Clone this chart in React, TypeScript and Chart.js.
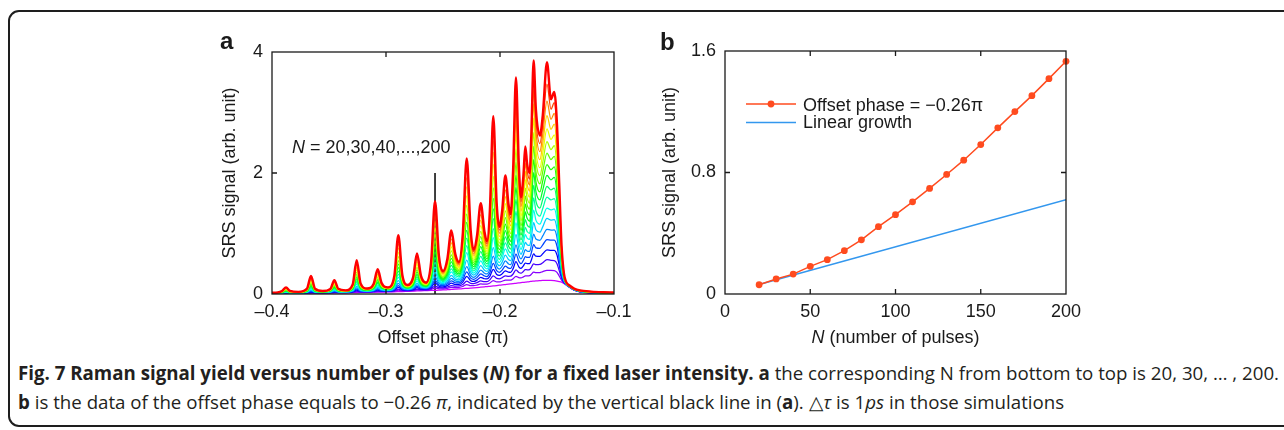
import React, { useEffect, useLayoutEffect, useRef } from 'react';
import { Chart, registerables } from 'chart.js';

Chart.register(...registerables);

// ---------------- data ----------------
// panel a: offset phase grid (units of pi) shared by every curve
const phaseGrid = [
  -0.4000, -0.3950, -0.3912, -0.3877, -0.3842, -0.3768, -0.3693, -0.3658, -0.3623, -0.3556,
  -0.3488, -0.3453, -0.3418, -0.3355, -0.3292, -0.3257, -0.3222, -0.3165, -0.3108, -0.3073,
  -0.3038, -0.2983, -0.2927, -0.2892, -0.2857, -0.2810, -0.2763, -0.2728, -0.2693, -0.2649,
  -0.2605, -0.2570, -0.2535, -0.2499, -0.2462, -0.2427, -0.2392, -0.2360, -0.2327, -0.2292,
  -0.2257, -0.2231, -0.2202, -0.2169, -0.2136, -0.2114, -0.2089, -0.2059, -0.2029, -0.2006,
  -0.1981, -0.1953, -0.1925, -0.1907, -0.1885, -0.1860, -0.1835, -0.1816, -0.1795, -0.1778,
  -0.1762, -0.1740, -0.1725, -0.1705, -0.1685, -0.1650, -0.1625, -0.1588, -0.1553, -0.1524,
  -0.1500, -0.1480, -0.1460, -0.1440, -0.1420, -0.1390, -0.1350, -0.1300, -0.1200, -0.1100,
  -0.1000,
];

const srsN20 = [
  0.005, 0.006, 0.007, 0.008, 0.008, 0.010, 0.011, 0.012, 0.013, 0.015,
  0.016, 0.017, 0.018, 0.020, 0.022, 0.023, 0.025, 0.027, 0.029, 0.030,
  0.032, 0.034, 0.037, 0.039, 0.041, 0.044, 0.047, 0.050, 0.052, 0.055,
  0.058, 0.061, 0.064, 0.067, 0.071, 0.075, 0.079, 0.083, 0.088, 0.093,
  0.098, 0.102, 0.107, 0.113, 0.119, 0.123, 0.128, 0.134, 0.140, 0.145,
  0.150, 0.156, 0.162, 0.166, 0.171, 0.177, 0.183, 0.187, 0.192, 0.196,
  0.200, 0.205, 0.209, 0.213, 0.217, 0.222, 0.225, 0.226, 0.224, 0.220,
  0.214, 0.206, 0.195, 0.175, 0.150, 0.110, 0.065, 0.035, 0.015, 0.009, 0.006,
];
const srsN30 = [
  0.006, 0.007, 0.009, 0.011, 0.010, 0.011, 0.014, 0.019, 0.016, 0.017,
  0.019, 0.023, 0.021, 0.022, 0.027, 0.036, 0.030, 0.031, 0.034, 0.040,
  0.038, 0.038, 0.045, 0.062, 0.050, 0.050, 0.056, 0.067, 0.062, 0.063,
  0.074, 0.099, 0.085, 0.084, 0.094, 0.108, 0.105, 0.108, 0.124, 0.157,
  0.138, 0.137, 0.148, 0.166, 0.163, 0.165, 0.182, 0.223, 0.200, 0.199,
  0.211, 0.230, 0.228, 0.230, 0.253, 0.293, 0.271, 0.266, 0.283, 0.300,
  0.301, 0.305, 0.326, 0.360, 0.352, 0.355, 0.371, 0.390, 0.390, 0.387,
  0.358, 0.295, 0.229, 0.185, 0.153, 0.112, 0.066, 0.036, 0.016, 0.010, 0.007,
];
const srsN40 = [
  0.007, 0.008, 0.010, 0.013, 0.011, 0.013, 0.016, 0.025, 0.018, 0.019,
  0.021, 0.028, 0.023, 0.024, 0.031, 0.047, 0.034, 0.034, 0.039, 0.049,
  0.043, 0.042, 0.053, 0.080, 0.059, 0.056, 0.064, 0.082, 0.071, 0.070,
  0.088, 0.131, 0.104, 0.102, 0.116, 0.139, 0.131, 0.133, 0.157, 0.212,
  0.176, 0.172, 0.188, 0.215, 0.206, 0.206, 0.234, 0.301, 0.258, 0.252,
  0.270, 0.301, 0.293, 0.294, 0.331, 0.398, 0.356, 0.344, 0.373, 0.402,
  0.400, 0.404, 0.440, 0.499, 0.484, 0.488, 0.517, 0.570, 0.557, 0.553,
  0.501, 0.383, 0.262, 0.194, 0.156, 0.113, 0.068, 0.038, 0.018, 0.011, 0.008,
];
const srsN50 = [
  0.008, 0.009, 0.012, 0.017, 0.013, 0.014, 0.019, 0.035, 0.021, 0.021,
  0.024, 0.035, 0.026, 0.027, 0.036, 0.065, 0.040, 0.038, 0.045, 0.063,
  0.049, 0.047, 0.063, 0.111, 0.070, 0.062, 0.073, 0.104, 0.082, 0.078,
  0.106, 0.182, 0.128, 0.119, 0.140, 0.178, 0.159, 0.158, 0.197, 0.292,
  0.220, 0.207, 0.230, 0.275, 0.252, 0.248, 0.292, 0.409, 0.322, 0.306,
  0.333, 0.383, 0.361, 0.358, 0.419, 0.535, 0.450, 0.423, 0.465, 0.512,
  0.503, 0.504, 0.562, 0.662, 0.625, 0.622, 0.664, 0.730, 0.723, 0.721,
  0.645, 0.472, 0.296, 0.204, 0.158, 0.115, 0.069, 0.039, 0.019, 0.012, 0.009,
];
const srsN60 = [
  0.008, 0.010, 0.014, 0.020, 0.015, 0.016, 0.022, 0.043, 0.024, 0.023,
  0.027, 0.042, 0.029, 0.029, 0.041, 0.080, 0.046, 0.041, 0.051, 0.075,
  0.055, 0.051, 0.072, 0.138, 0.080, 0.068, 0.083, 0.124, 0.092, 0.085,
  0.124, 0.226, 0.150, 0.137, 0.164, 0.215, 0.186, 0.182, 0.235, 0.364,
  0.262, 0.242, 0.272, 0.332, 0.297, 0.289, 0.349, 0.508, 0.385, 0.359,
  0.395, 0.461, 0.428, 0.422, 0.504, 0.661, 0.541, 0.501, 0.557, 0.619,
  0.605, 0.604, 0.681, 0.817, 0.763, 0.755, 0.811, 0.900, 0.890, 0.889,
  0.789, 0.560, 0.329, 0.214, 0.161, 0.117, 0.071, 0.041, 0.021, 0.014, 0.010,
];
const srsN70 = [
  0.009, 0.011, 0.016, 0.025, 0.017, 0.017, 0.026, 0.054, 0.028, 0.025,
  0.030, 0.050, 0.033, 0.031, 0.047, 0.101, 0.052, 0.045, 0.057, 0.090,
  0.062, 0.055, 0.084, 0.174, 0.092, 0.073, 0.093, 0.149, 0.103, 0.093,
  0.144, 0.285, 0.176, 0.154, 0.189, 0.258, 0.216, 0.207, 0.277, 0.453,
  0.308, 0.276, 0.316, 0.396, 0.344, 0.331, 0.410, 0.627, 0.452, 0.413,
  0.459, 0.547, 0.497, 0.487, 0.596, 0.811, 0.638, 0.580, 0.651, 0.733,
  0.709, 0.704, 0.806, 0.990, 0.909, 0.888, 0.960, 1.070, 1.056, 1.059,
  0.932, 0.649, 0.363, 0.224, 0.164, 0.118, 0.072, 0.042, 0.022, 0.015, 0.011,
];
const srsN80 = [
  0.010, 0.012, 0.018, 0.030, 0.019, 0.018, 0.030, 0.068, 0.032, 0.027,
  0.034, 0.061, 0.036, 0.033, 0.054, 0.127, 0.059, 0.048, 0.065, 0.109,
  0.070, 0.059, 0.097, 0.220, 0.106, 0.079, 0.104, 0.180, 0.116, 0.100,
  0.167, 0.357, 0.205, 0.171, 0.216, 0.307, 0.246, 0.232, 0.324, 0.560,
  0.358, 0.311, 0.362, 0.467, 0.393, 0.372, 0.476, 0.768, 0.524, 0.467,
  0.526, 0.642, 0.569, 0.551, 0.696, 0.984, 0.743, 0.658, 0.747, 0.853,
  0.816, 0.803, 0.938, 1.180, 1.061, 1.021, 1.110, 1.250, 1.223, 1.231,
  1.076, 0.737, 0.397, 0.233, 0.167, 0.120, 0.073, 0.043, 0.023, 0.016, 0.012,
];
const srsN90 = [
  0.011, 0.013, 0.020, 0.036, 0.022, 0.020, 0.034, 0.085, 0.036, 0.029,
  0.038, 0.073, 0.040, 0.036, 0.062, 0.159, 0.068, 0.052, 0.073, 0.131,
  0.078, 0.064, 0.112, 0.274, 0.122, 0.085, 0.117, 0.216, 0.130, 0.108,
  0.194, 0.443, 0.236, 0.189, 0.245, 0.364, 0.279, 0.257, 0.375, 0.685,
  0.412, 0.346, 0.410, 0.547, 0.445, 0.414, 0.547, 0.931, 0.601, 0.520,
  0.595, 0.744, 0.643, 0.615, 0.802, 1.181, 0.854, 0.737, 0.846, 0.980,
  0.925, 0.903, 1.075, 1.388, 1.221, 1.155, 1.262, 1.420, 1.389, 1.405,
  1.220, 0.826, 0.430, 0.243, 0.169, 0.122, 0.075, 0.045, 0.025, 0.017, 0.013,
];
const srsN100 = [
  0.012, 0.014, 0.023, 0.041, 0.024, 0.021, 0.038, 0.100, 0.040, 0.031,
  0.042, 0.085, 0.044, 0.038, 0.070, 0.187, 0.076, 0.055, 0.080, 0.151,
  0.086, 0.068, 0.126, 0.324, 0.137, 0.091, 0.129, 0.249, 0.144, 0.115,
  0.219, 0.522, 0.267, 0.206, 0.273, 0.416, 0.311, 0.282, 0.423, 0.800,
  0.464, 0.381, 0.457, 0.622, 0.495, 0.455, 0.615, 1.082, 0.675, 0.574,
  0.663, 0.843, 0.716, 0.679, 0.905, 1.364, 0.962, 0.815, 0.943, 1.103,
  1.033, 1.003, 1.210, 1.587, 1.376, 1.288, 1.413, 1.600, 1.556, 1.578,
  1.363, 0.914, 0.464, 0.253, 0.172, 0.123, 0.076, 0.046, 0.026, 0.018, 0.014,
];
const srsN110 = [
  0.013, 0.016, 0.025, 0.047, 0.026, 0.023, 0.043, 0.117, 0.045, 0.033,
  0.046, 0.097, 0.047, 0.040, 0.078, 0.219, 0.084, 0.059, 0.089, 0.174,
  0.095, 0.072, 0.142, 0.379, 0.154, 0.097, 0.142, 0.285, 0.158, 0.123,
  0.246, 0.607, 0.299, 0.224, 0.302, 0.473, 0.344, 0.307, 0.474, 0.925,
  0.519, 0.416, 0.505, 0.702, 0.546, 0.497, 0.687, 1.245, 0.753, 0.628,
  0.732, 0.946, 0.790, 0.743, 1.012, 1.561, 1.074, 0.894, 1.041, 1.230,
  1.142, 1.103, 1.347, 1.795, 1.536, 1.421, 1.565, 1.780, 1.722, 1.752,
  1.507, 1.003, 0.498, 0.263, 0.175, 0.125, 0.078, 0.048, 0.028, 0.020, 0.016,
];
const srsN120 = [
  0.013, 0.017, 0.028, 0.053, 0.029, 0.024, 0.048, 0.134, 0.049, 0.034,
  0.050, 0.110, 0.051, 0.042, 0.086, 0.251, 0.092, 0.062, 0.097, 0.196,
  0.103, 0.076, 0.157, 0.434, 0.170, 0.103, 0.155, 0.322, 0.172, 0.130,
  0.272, 0.695, 0.331, 0.241, 0.330, 0.529, 0.377, 0.331, 0.525, 1.051,
  0.573, 0.451, 0.553, 0.782, 0.597, 0.538, 0.758, 1.409, 0.830, 0.681,
  0.801, 1.049, 0.864, 0.807, 1.119, 1.759, 1.186, 0.972, 1.140, 1.357,
  1.251, 1.202, 1.485, 2.005, 1.696, 1.554, 1.717, 1.960, 1.888, 1.926,
  1.651, 1.092, 0.531, 0.272, 0.178, 0.127, 0.079, 0.049, 0.029, 0.021, 0.017,
];
const srsN130 = [
  0.014, 0.018, 0.030, 0.059, 0.031, 0.025, 0.052, 0.153, 0.054, 0.036,
  0.054, 0.123, 0.055, 0.044, 0.094, 0.285, 0.101, 0.066, 0.105, 0.220,
  0.112, 0.080, 0.173, 0.493, 0.187, 0.109, 0.168, 0.360, 0.187, 0.138,
  0.301, 0.787, 0.364, 0.258, 0.360, 0.589, 0.411, 0.356, 0.578, 1.184,
  0.629, 0.486, 0.602, 0.865, 0.650, 0.580, 0.831, 1.581, 0.909, 0.735,
  0.872, 1.156, 0.939, 0.871, 1.229, 1.966, 1.300, 1.051, 1.239, 1.486,
  1.362, 1.302, 1.625, 2.221, 1.859, 1.687, 1.870, 2.140, 2.055, 2.101,
  1.794, 1.180, 0.565, 0.282, 0.181, 0.128, 0.080, 0.050, 0.030, 0.022, 0.018,
];
const srsN140 = [
  0.015, 0.019, 0.033, 0.066, 0.034, 0.027, 0.057, 0.171, 0.059, 0.038,
  0.058, 0.137, 0.059, 0.047, 0.103, 0.319, 0.110, 0.069, 0.114, 0.244,
  0.121, 0.085, 0.189, 0.552, 0.204, 0.115, 0.182, 0.400, 0.202, 0.145,
  0.329, 0.881, 0.398, 0.276, 0.390, 0.648, 0.445, 0.381, 0.632, 1.319,
  0.685, 0.521, 0.651, 0.948, 0.702, 0.621, 0.905, 1.756, 0.989, 0.788,
  0.942, 1.263, 1.014, 0.935, 1.339, 2.175, 1.415, 1.129, 1.339, 1.617,
  1.472, 1.402, 1.766, 2.439, 2.023, 1.821, 2.023, 2.330, 2.221, 2.276,
  1.938, 1.269, 0.598, 0.292, 0.183, 0.130, 0.082, 0.052, 0.032, 0.023, 0.019,
];
const srsN150 = [
  0.016, 0.020, 0.036, 0.073, 0.036, 0.028, 0.062, 0.191, 0.064, 0.040,
  0.062, 0.151, 0.063, 0.049, 0.112, 0.357, 0.120, 0.073, 0.123, 0.270,
  0.131, 0.089, 0.207, 0.618, 0.222, 0.121, 0.196, 0.442, 0.218, 0.153,
  0.359, 0.984, 0.433, 0.293, 0.421, 0.712, 0.480, 0.406, 0.688, 1.465,
  0.744, 0.556, 0.702, 1.037, 0.756, 0.663, 0.982, 1.944, 1.072, 0.842,
  1.014, 1.375, 1.091, 0.999, 1.455, 2.399, 1.535, 1.208, 1.439, 1.751,
  1.584, 1.501, 1.911, 2.668, 2.191, 1.954, 2.176, 2.520, 2.388, 2.452,
  2.082, 1.357, 0.632, 0.301, 0.186, 0.132, 0.083, 0.053, 0.033, 0.024, 0.020,
];
const srsN160 = [
  0.017, 0.021, 0.038, 0.080, 0.039, 0.029, 0.068, 0.213, 0.069, 0.042,
  0.067, 0.167, 0.068, 0.051, 0.121, 0.398, 0.130, 0.076, 0.132, 0.298,
  0.140, 0.093, 0.226, 0.689, 0.242, 0.126, 0.211, 0.488, 0.234, 0.160,
  0.392, 1.094, 0.471, 0.310, 0.453, 0.780, 0.516, 0.431, 0.746, 1.620,
  0.806, 0.590, 0.754, 1.130, 0.811, 0.704, 1.062, 2.143, 1.158, 0.896,
  1.087, 1.493, 1.168, 1.064, 1.574, 2.636, 1.658, 1.286, 1.542, 1.889,
  1.697, 1.601, 2.059, 2.907, 2.363, 2.087, 2.331, 2.730, 2.554, 2.630,
  2.225, 1.446, 0.666, 0.311, 0.189, 0.133, 0.084, 0.054, 0.034, 0.025, 0.021,
];
const srsN170 = [
  0.018, 0.022, 0.041, 0.088, 0.042, 0.031, 0.073, 0.234, 0.074, 0.044,
  0.071, 0.183, 0.072, 0.053, 0.131, 0.437, 0.140, 0.080, 0.142, 0.325,
  0.150, 0.097, 0.244, 0.757, 0.261, 0.132, 0.225, 0.533, 0.250, 0.168,
  0.423, 1.201, 0.508, 0.328, 0.484, 0.847, 0.552, 0.456, 0.804, 1.772,
  0.866, 0.625, 0.805, 1.221, 0.865, 0.746, 1.141, 2.339, 1.243, 0.949,
  1.160, 1.608, 1.246, 1.128, 1.692, 2.868, 1.780, 1.365, 1.643, 2.026,
  1.810, 1.701, 2.206, 3.142, 2.533, 2.220, 2.486, 2.950, 2.721, 2.807,
  2.369, 1.534, 0.699, 0.321, 0.192, 0.135, 0.086, 0.056, 0.036, 0.027, 0.022,
];
const srsN180 = [
  0.018, 0.023, 0.044, 0.095, 0.044, 0.032, 0.079, 0.255, 0.079, 0.046,
  0.076, 0.198, 0.076, 0.056, 0.140, 0.476, 0.149, 0.083, 0.151, 0.352,
  0.160, 0.102, 0.262, 0.825, 0.280, 0.138, 0.240, 0.576, 0.266, 0.175,
  0.454, 1.306, 0.544, 0.345, 0.515, 0.912, 0.587, 0.480, 0.861, 1.921,
  0.926, 0.660, 0.856, 1.311, 0.919, 0.787, 1.218, 2.531, 1.326, 1.003,
  1.232, 1.722, 1.323, 1.192, 1.808, 3.096, 1.901, 1.443, 1.745, 2.161,
  1.922, 1.801, 2.351, 3.375, 2.703, 2.354, 2.640, 3.190, 2.887, 2.984,
  2.513, 1.623, 0.733, 0.331, 0.194, 0.137, 0.087, 0.057, 0.037, 0.028, 0.023,
];
const srsN190 = [
  0.019, 0.024, 0.047, 0.102, 0.047, 0.034, 0.084, 0.277, 0.085, 0.048,
  0.080, 0.214, 0.081, 0.058, 0.150, 0.518, 0.160, 0.087, 0.160, 0.381,
  0.170, 0.106, 0.281, 0.897, 0.300, 0.144, 0.255, 0.623, 0.283, 0.183,
  0.487, 1.418, 0.582, 0.363, 0.548, 0.981, 0.623, 0.505, 0.920, 2.080,
  0.988, 0.695, 0.908, 1.405, 0.975, 0.829, 1.299, 2.735, 1.413, 1.056,
  1.306, 1.841, 1.401, 1.256, 1.929, 3.337, 2.025, 1.522, 1.847, 2.300,
  2.036, 1.900, 2.500, 3.616, 2.876, 2.487, 2.795, 3.470, 3.054, 3.162,
  2.656, 1.711, 0.766, 0.340, 0.197, 0.138, 0.089, 0.059, 0.039, 0.029, 0.024,
];
const srsN200 = [
  0.020, 0.025, 0.050, 0.110, 0.050, 0.035, 0.090, 0.300, 0.090, 0.050,
  0.085, 0.230, 0.085, 0.060, 0.160, 0.560, 0.170, 0.090, 0.170, 0.410,
  0.180, 0.110, 0.300, 0.970, 0.320, 0.150, 0.270, 0.670, 0.300, 0.190,
  0.520, 1.532, 0.620, 0.380, 0.580, 1.050, 0.660, 0.530, 0.980, 2.240,
  1.050, 0.730, 0.960, 1.500, 1.030, 0.870, 1.380, 2.940, 1.500, 1.110,
  1.380, 1.960, 1.480, 1.320, 2.050, 3.580, 2.150, 1.600, 1.950, 2.440,
  2.150, 2.000, 2.650, 3.860, 3.050, 2.620, 2.950, 3.830, 3.220, 3.340,
  2.800, 1.800, 0.800, 0.350, 0.200, 0.140, 0.090, 0.060, 0.040, 0.030, 0.025,
];

// marker line in panel a (offset phase of panel b)
const markerPhase = -0.257;
const markerSignal = [0, 2];

// panel b
const pulseCountsN = [20, 30, 40, 50, 60, 70, 80, 90, 100, 110, 120, 130, 140, 150, 160, 170, 180, 190, 200];
const offsetPhaseSignal = [0.061, 0.099, 0.131, 0.182, 0.226, 0.285, 0.357, 0.443, 0.522, 0.607, 0.695, 0.787, 0.881, 0.984, 1.094, 1.201, 1.306, 1.418, 1.532];
const linearGrowthN = [20, 200];
const linearGrowthSignal = [0.062, 0.62];

// tick values
const phaseTicks = [-0.4, -0.3, -0.2, -0.1];
const signalTicksA = [0, 2, 4];
const pulseTicks = [0, 50, 100, 150, 200];
const signalTicksB = [0, 0.8, 1.6];

const srsSeries = [srsN20, srsN30, srsN40, srsN50, srsN60, srsN70, srsN80, srsN90, srsN100, srsN110,
  srsN120, srsN130, srsN140, srsN150, srsN160, srsN170, srsN180, srsN190, srsN200];

// ---------------- styles ----------------
const INK = '#1a1a1a';
const FONT = '"Liberation Sans", Arial, Helvetica, sans-serif';
const curveColors = ['#cc00ff', '#8800ff', '#4400ff', '#0000ff', '#0044ff', '#0088ff', '#00ccff', '#00ffee', '#00ffaa',
  '#00ff66', '#00ff22', '#22ff00', '#66ff00', '#aaff00', '#eeff00', '#ffcc00', '#ff8800', '#ff4400', '#ff0000'];
const ORANGE = '#ff4b1f';
const BLUE = '#3397ee';

const inwardFramePlugin = {
  id: 'inwardFrame',
  afterDatasetsDraw(chart: any) {
    const { ctx, chartArea } = chart;
    const { left, right, top, bottom } = chartArea;
    const xs = chart.scales.x;
    const ys = chart.scales.y;
    const len = 5;
    ctx.save();
    ctx.strokeStyle = INK;
    ctx.lineWidth = 1.3;
    ctx.beginPath();
    xs.ticks.forEach((t: any) => {
      const p = xs.getPixelForValue(t.value);
      if (p - left < 2 || right - p < 2) return;
      ctx.moveTo(p, bottom); ctx.lineTo(p, bottom - len);
      ctx.moveTo(p, top); ctx.lineTo(p, top + len);
    });
    ys.ticks.forEach((t: any) => {
      const p = ys.getPixelForValue(t.value);
      if (p - top < 2 || bottom - p < 2) return;
      ctx.moveTo(left, p); ctx.lineTo(left + len, p);
      ctx.moveTo(right, p); ctx.lineTo(right - len, p);
    });
    ctx.stroke();
    ctx.strokeRect(left, top, right - left, bottom - top);
    ctx.restore();
  },
};

function axisCommon(ticks: number[], fmt: (v: number) => string, size: { w?: number; h?: number }, pad: number) {
  return {
    type: 'linear',
    grid: { display: false, drawTicks: false },
    border: { display: false },
    afterBuildTicks: (s: any) => { s.ticks = ticks.map((v) => ({ value: v })); },
    afterFit: (s: any) => {
      if (size.w !== undefined) s.width = size.w;
      if (size.h !== undefined) s.height = size.h;
    },
    ticks: {
      padding: pad,
      color: INK,
      autoSkip: false,
      maxRotation: 0,
      font: { family: FONT, size: 18 },
      callback: (v: any) => fmt(Number(v)),
    },
  };
}

function SpectraChart() {
  const ref = useRef<HTMLCanvasElement>(null);
  useEffect(() => {
    const canvas = ref.current;
    if (!canvas) return;
    const curveDatasets = srsSeries.map((values, k) => ({
      label: `N = ${pulseCountsN[k]}`,
      data: phaseGrid.map((x, i) => ({ x, y: values[i] })),
      borderColor: curveColors[k],
      backgroundColor: curveColors[k],
      borderWidth: k === srsSeries.length - 1 ? 2.4 : 1.25,
      pointRadius: 0,
      cubicInterpolationMode: 'monotone',
      fill: false,
      order: srsSeries.length - 1 - k,
    }));
    const markerDataset = {
      label: 'offset phase marker',
      data: markerSignal.map((y) => ({ x: markerPhase, y })),
      borderColor: '#000000',
      borderWidth: 1.5,
      pointRadius: 0,
      tension: 0,
      fill: false,
      order: 100,
    };
    const textPlugin = {
      id: 'panelAText',
      afterDraw(chart: any) {
        const { ctx } = chart;
        const xs = chart.scales.x;
        const ys = chart.scales.y;
        ctx.save();
        ctx.fillStyle = INK;
        ctx.textBaseline = 'alphabetic';
        ctx.textAlign = 'left';
        const px = xs.getPixelForValue(-0.3825);
        const py = ys.getPixelForValue(2.33);
        ctx.font = `italic 18px ${FONT}`;
        ctx.fillText('N', px, py);
        const w = ctx.measureText('N').width;
        ctx.font = `18px ${FONT}`;
        ctx.fillText(' = 20,30,40,...,200', px + w, py);
        ctx.font = `bold 24px ${FONT}`;
        ctx.fillText('a', 20, 24);
        ctx.restore();
      },
    };
    const chart = new Chart(canvas, {
      type: 'line',
      data: { datasets: [...curveDatasets, markerDataset] as any },
      options: {
        responsive: false,
        animation: false,
        devicePixelRatio: 1,
        events: [],
        layout: { padding: { left: 0, top: 27, right: 46, bottom: 0 } },
        plugins: { legend: { display: false }, tooltip: { enabled: false } },
        scales: {
          x: {
            ...axisCommon(phaseTicks, (v) => v.toFixed(1).replace('-', '\u2013'), { h: 61 }, 7),
            min: -0.4,
            max: -0.1,
            title: {
              display: true,
              text: 'Offset phase (\u03c0)',
              color: INK,
              font: { family: FONT, size: 18 },
              padding: { top: 0, bottom: 6 },
            },
          },
          y: {
            ...axisCommon(signalTicksA, (v) => String(v), { w: 72 }, 9),
            min: 0,
            max: 4,
            title: {
              display: true,
              text: 'SRS signal (arb. unit)',
              color: INK,
              font: { family: FONT, size: 18 },
              padding: { top: 19, bottom: 0 },
            },
          },
        },
      } as any,
      plugins: [inwardFramePlugin, textPlugin],
    });
    return () => chart.destroy();
  }, []);
  return (
    <canvas
      ref={ref}
      width={460}
      height={330}
      style={{ position: 'absolute', left: 200, top: 25, width: 460, height: 330 }}
    />
  );
}

function GrowthChart() {
  const ref = useRef<HTMLCanvasElement>(null);
  useEffect(() => {
    const canvas = ref.current;
    if (!canvas) return;
    const textPlugin = {
      id: 'panelBText',
      afterDraw(chart: any) {
        const { ctx, chartArea } = chart;
        const { left, right, top, bottom } = chartArea;
        ctx.save();
        ctx.fillStyle = INK;
        // legend
        const lx0 = left + 21;
        const lx1 = left + 71;
        const y1 = top + 53;
        const y2 = top + 71.5;
        ctx.lineWidth = 1.5;
        ctx.strokeStyle = ORANGE;
        ctx.beginPath(); ctx.moveTo(lx0, y1); ctx.lineTo(lx1, y1); ctx.stroke();
        ctx.fillStyle = ORANGE;
        ctx.beginPath(); ctx.arc((lx0 + lx1) / 2, y1, 3.4, 0, Math.PI * 2); ctx.fill();
        ctx.strokeStyle = BLUE;
        ctx.beginPath(); ctx.moveTo(lx0, y2); ctx.lineTo(lx1, y2); ctx.stroke();
        ctx.fillStyle = INK;
        ctx.font = `18px ${FONT}`;
        ctx.textAlign = 'left';
        ctx.textBaseline = 'middle';
        ctx.fillText('Offset phase = \u22120.26\u03c0', left + 78, y1 + 2);
        ctx.fillText('Linear growth', left + 78, y2 + 1);
        // x axis title with italic N
        const cx = (left + right) / 2;
        const ty = bottom + 44;
        ctx.font = `italic 18px ${FONT}`;
        const wN = ctx.measureText('N').width;
        ctx.font = `18px ${FONT}`;
        const rest = ' (number of pulses)';
        const wR = ctx.measureText(rest).width;
        const x0 = cx - (wN + wR) / 2;
        ctx.font = `italic 18px ${FONT}`;
        ctx.fillText('N', x0, ty);
        ctx.font = `18px ${FONT}`;
        ctx.fillText(rest, x0 + wN, ty);
        // panel letter
        ctx.textBaseline = 'alphabetic';
        ctx.font = `bold 24px ${FONT}`;
        ctx.fillText('b', 20, 25);
        ctx.restore();
      },
    };
    const chart = new Chart(canvas, {
      type: 'line',
      data: {
        datasets: [
          {
            label: 'Offset phase = \u22120.26\u03c0',
            data: pulseCountsN.map((n, i) => ({ x: n, y: offsetPhaseSignal[i] })),
            borderColor: ORANGE,
            backgroundColor: ORANGE,
            borderWidth: 1.5,
            pointRadius: 3.4,
            pointBorderWidth: 0,
            pointBackgroundColor: ORANGE,
            tension: 0,
            fill: false,
            clip: false,
            order: 0,
          },
          {
            label: 'Linear growth',
            data: linearGrowthN.map((n, i) => ({ x: n, y: linearGrowthSignal[i] })),
            borderColor: BLUE,
            borderWidth: 1.5,
            pointRadius: 0,
            tension: 0,
            fill: false,
            order: 1,
          },
        ] as any,
      },
      options: {
        responsive: false,
        animation: false,
        devicePixelRatio: 1,
        events: [],
        layout: { padding: { left: 0, top: 26, right: 34, bottom: 0 } },
        plugins: { legend: { display: false }, tooltip: { enabled: false } },
        scales: {
          x: {
            ...axisCommon(pulseTicks, (v) => String(v), { h: 61 }, 7),
            min: 0,
            max: 200,
            title: { display: false },
          },
          y: {
            ...axisCommon(signalTicksB, (v) => (v === 0 ? '0' : v.toFixed(1)), { w: 85 }, 9),
            min: 0,
            max: 1.6,
            title: {
              display: true,
              text: 'SRS signal (arb. unit)',
              color: INK,
              font: { family: FONT, size: 18 },
              padding: { top: 19, bottom: 0 },
            },
          },
        },
      } as any,
      plugins: [inwardFramePlugin, textPlugin],
    });
    return () => chart.destroy();
  }, []);
  return (
    <canvas
      ref={ref}
      width={460}
      height={330}
      style={{ position: 'absolute', left: 640, top: 25, width: 460, height: 330 }}
    />
  );
}

const CAPTION_FONT = '"Open Sans", "Noto Sans", "Liberation Sans", sans-serif';

function Caption() {
  const l1 = useRef<HTMLDivElement>(null);
  const l2 = useRef<HTMLDivElement>(null);
  useLayoutEffect(() => {
    const fit = () => {
      const a = l1.current;
      const b = l2.current;
      if (!a || !b) return;
      a.style.transform = 'none';
      b.style.transform = 'none';
      const w = a.getBoundingClientRect().width;
      if (w > 0) {
        const s = 1261 / w;
        a.style.transform = `scaleX(${s})`;
        b.style.transform = `scaleX(${s})`;
      }
    };
    fit();
    const fonts: any = (document as any).fonts;
    if (fonts && fonts.ready) fonts.ready.then(fit);
  }, []);
  const lineStyle: React.CSSProperties = {
    position: 'absolute',
    left: 18,
    whiteSpace: 'nowrap',
    display: 'inline-block',
    fontFamily: CAPTION_FONT,
    fontSize: 19,
    lineHeight: '22px',
    color: '#231f20',
    transformOrigin: '0 0',
  };
  return (
    <>
      <div ref={l1} style={{ ...lineStyle, top: 362 }}>
        <b>Fig. 7 Raman signal yield versus number of pulses (<i>N</i>) for a fixed laser intensity.</b>{' '}
        <b>a</b> the corresponding N from bottom to top is 20, 30, … , 200.
      </div>
      <div ref={l2} style={{ ...lineStyle, top: 391 }}>
        <b>b</b> is the data of the offset phase equals to −0.26 <i>π</i>, indicated by the vertical black line in (<b>a</b>). △<i>τ</i> is 1<i>ps</i> in those simulations
      </div>
    </>
  );
}

export default function App() {
  return (
    <div
      style={{
        position: 'absolute',
        left: 0,
        top: 0,
        width: 1284,
        height: 430,
        overflow: 'hidden',
        background: '#ffffff',
      }}
    >
      <div
        style={{
          position: 'absolute',
          left: 8,
          top: 10,
          width: 1320,
          height: 417,
          border: '2px solid #1e1e1e',
          borderRadius: 11,
          boxSizing: 'border-box',
        }}
      />
      <SpectraChart />
      <GrowthChart />
      <Caption />
    </div>
  );
}
